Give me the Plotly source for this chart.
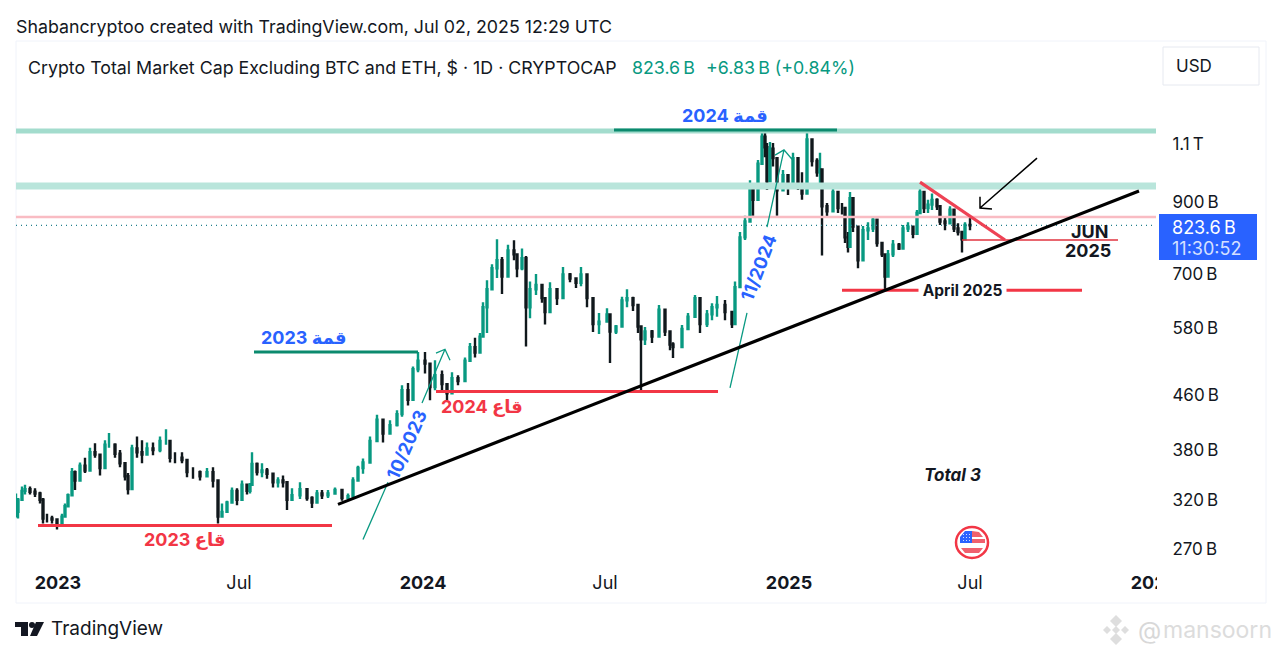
import pandas as pd
import plotly.graph_objects as go

W, H = 1280, 656
PLOT_L, PLOT_R, PLOT_T, PLOT_B = 16, 1156, 84, 570

GREEN = '#089981'
RED = '#f23645'
BLUE = '#2962ff'
INK = '#131722'
FONT = 'Inter, "DejaVu Sans", sans-serif'

# Velas (dias desde 2022-11-20, valores em bilhões)
days = [
    0, 2, 6, 9, 14, 19, 24, 27, 31, 36,
    41, 46, 49, 52, 56, 59, 64, 69, 74, 79,
    84, 89, 93, 99, 104, 109, 112, 116, 121, 126,
    131, 137, 144, 150, 154, 159, 166, 171, 177, 184,
    191, 197, 202, 206, 211, 216, 221, 226, 231, 234,
    236, 241, 246, 251, 257, 262, 267, 271, 276, 284,
    291, 296, 301, 306, 312, 319, 326, 332, 337, 342,
    347, 354, 361, 367, 374, 381, 386, 392, 397, 402,
    409, 414, 419, 426, 431, 436, 442, 449, 454, 459,
    464, 467, 471, 476, 481, 486, 492, 498, 501, 506,
    510, 514, 520, 526, 529, 534, 541, 547, 554, 560,
    565, 571, 577, 583, 591, 594, 600, 606, 611, 617,
    622, 625, 629, 636, 643, 649, 654, 657, 666, 672,
    679, 684, 691, 696, 701, 709, 716, 719, 724, 729,
    734, 737, 742, 746, 749, 751, 754, 757, 761, 767,
    772, 777, 782, 786, 791, 796, 801, 804, 806, 811,
    817, 822, 826, 829, 832, 834, 837, 842, 847, 852,
    857, 861, 866, 869, 872, 877, 883, 887, 892, 897,
    901, 904, 908, 912, 916, 921, 924, 929, 934, 938,
    942, 946, 949, 954,
]
highs = [
    325, 320, 333, 335, 333, 331, 327, 320, 303, 301,
    296, 303, 314, 325, 355, 352, 362, 368, 381, 387,
    368, 391, 401, 387, 378, 361, 349, 385, 396, 391,
    388, 388, 396, 406, 381, 375, 375, 361, 356, 352,
    355, 356, 332, 314, 317, 332, 331, 340, 332, 337,
    375, 362, 361, 355, 348, 344, 346, 332, 331, 338,
    325, 322, 329, 329, 329, 332, 326, 325, 344, 358,
    367, 396, 427, 419, 419, 434, 473, 477, 505, 531,
    531, 498, 516, 498, 473, 495, 490, 521, 548, 558,
    567, 631, 681, 720, 785, 738, 770, 782, 735, 760,
    741, 678, 696, 660, 636, 676, 660, 713, 698, 688,
    713, 667, 614, 608, 618, 593, 583, 643, 660, 643,
    614, 567, 579, 573, 625, 579, 563, 549, 583, 608,
    647, 600, 614, 629, 645, 636, 600, 678, 805, 852,
    963, 940, 1033, 1147, 1140, 1096, 1100, 1096, 1033, 998,
    970, 1060, 990, 990, 1135, 1070, 1040, 1060, 945, 890,
    945, 910, 890, 839, 805, 925, 875, 805, 822, 833,
    850, 805, 775, 730, 756, 783, 775, 825, 833, 817,
    869, 947, 900, 900, 920, 905, 860, 850, 880, 839,
    830, 805, 833, 845,
]
lows = [
    299, 298, 317, 324, 324, 321, 314, 293, 294, 293,
    287, 293, 299, 310, 331, 329, 345, 349, 361, 368,
    346, 368, 381, 368, 356, 340, 324, 362, 368, 361,
    371, 371, 375, 385, 362, 361, 361, 344, 342, 340,
    344, 332, 293, 299, 307, 317, 312, 325, 324, 325,
    344, 346, 344, 342, 332, 332, 332, 307, 317, 319,
    317, 309, 319, 319, 320, 324, 317, 319, 325, 342,
    348, 374, 391, 388, 401, 410, 424, 441, 476, 495,
    493, 449, 465, 465, 449, 465, 473, 498, 521, 521,
    548, 567, 567, 681, 686, 649, 720, 730, 688, 705,
    541, 597, 647, 630, 584, 636, 625, 651, 676, 663,
    667, 620, 569, 565, 588, 511, 565, 602, 620, 612,
    567, 465, 544, 548, 588, 561, 534, 520, 561, 579,
    620, 567, 579, 593, 600, 593, 577, 620, 716, 783,
    880, 852, 960, 1033, 1043, 931, 1033, 1010, 852, 931,
    915, 975, 931, 900, 1010, 1010, 975, 945, 742, 850,
    880, 860, 855, 775, 750, 860, 805, 710, 775, 783,
    805, 765, 738, 658, 722, 738, 756, 795, 805, 788,
    805, 880, 860, 860, 869, 869, 825, 810, 830, 805,
    795, 750, 805, 810,
]
closes = [
    305, 318, 328, 330, 327, 325, 318, 298, 298, 297,
    291, 300, 311, 323, 350, 340, 358, 352, 375, 372,
    355, 385, 385, 373, 361, 345, 330, 380, 375, 372,
    380, 378, 390, 390, 368, 368, 365, 350, 350, 345,
    350, 340, 300, 305, 315, 328, 318, 335, 328, 335,
    360, 350, 352, 348, 338, 340, 338, 318, 323, 330,
    320, 315, 325, 323, 325, 329, 320, 322, 340, 355,
    362, 390, 420, 400, 412, 428, 465, 450, 500, 515,
    510, 470, 490, 475, 460, 485, 480, 515, 540, 530,
    560, 620, 660, 710, 730, 690, 755, 745, 710, 735,
    620, 660, 670, 640, 610, 660, 640, 695, 685, 675,
    695, 640, 585, 590, 605, 570, 580, 635, 640, 625,
    580, 555, 570, 560, 615, 570, 545, 540, 575, 600,
    640, 585, 605, 620, 625, 610, 585, 665, 790, 835,
    945, 900, 1020, 1120, 1080, 960, 1075, 1040, 930, 980,
    940, 1040, 950, 920, 1110, 1030, 990, 1000, 880, 865,
    925, 875, 875, 790, 765, 905, 820, 730, 810, 815,
    840, 775, 745, 690, 745, 770, 760, 815, 820, 800,
    860, 925, 875, 885, 900, 880, 835, 830, 870, 815,
    805, 785, 825, 823.6,
]
opens = [closes[0]] + closes[:-1]
dates = pd.Timestamp('2022-11-20') + pd.to_timedelta(days, unit='D')

# Desenhos sobre o gráfico
last_price = 823.6
band_top, band_mid, pink_level = 1143, 944, 848

trend_x = ['2023-10-08', '2025-12-17']
trend_y = [313, 928]
top24_x, top24_y = ['2024-07-10', '2025-02-18'], [1147, 1147]
top23_x, top23_y = ['2023-07-16', '2023-12-27'], [531, 531]
low23_x, low23_y = ['2022-12-12', '2023-10-02'], [291, 291]
low24_x, low24_y = ['2024-01-14', '2024-10-22'], [463, 463]
apr25_x, apr25_y = ['2025-02-23', '2025-10-21'], [658, 658]
jun25_x, jun25_y = ['2025-06-23', '2025-11-26'], [783, 783]
wedge_x, wedge_y = ['2025-05-12', '2025-08-05'], [957, 783]
# As setas verdes somem por trás dos textos 10/2023 e 11/2024
arrow23_x = ['2023-11-02', '2023-11-27', None, '2023-12-31', '2024-01-23', '2024-01-14', '2024-01-23', '2024-01-28']
arrow23_y = [277, 338, None, 445, 536, 529, 536, 516]
arrow24_x = ['2024-11-03', '2024-11-20', None, '2024-12-10', '2024-12-27', '2024-12-18', '2024-12-27', '2025-01-04']
arrow24_y = [469, 608, None, 819, 1070, 1051, 1070, 1036]
black_x = ['2025-09-06', '2025-07-11', '2025-07-11', '2025-07-11', '2025-07-23']
black_y = [1040, 875, 910, 875, 872]

x_ticks = ['2023-01-01', '2023-07-01', '2024-01-01', '2024-07-01', '2025-01-01', '2025-07-01', '2026-01-01']
x_labels = ['<b>2023</b>', 'Jul', '<b>2024</b>', 'Jul', '<b>2025</b>', 'Jul', '<b>2026</b>']
y_ticks = [270, 320, 380, 460, 580, 700, 900, 1100]
y_labels = ['270\u202fB', '320\u202fB', '380\u202fB', '460\u202fB', '580\u202fB', '700\u202fB', '900\u202fB', '1.1\u202fT']


def px(x):
    return (x - PLOT_L) / (PLOT_R - PLOT_L)


def py(y):
    return (PLOT_B - y) / (PLOT_B - PLOT_T)


def texto(fig, x, y, text, size=16, color=INK, anchor='center', angle=0, bg=None, font=FONT):
    fig.add_annotation(x=px(x), y=py(y), xref='paper', yref='paper', text=text, showarrow=False,
                       xanchor=anchor, yanchor='middle', textangle=angle, bgcolor=bg, borderpad=0,
                       font=dict(family=font, size=size, color=color))


def retangulo(fig, x0, y0, x1, y1, fill='rgba(0,0,0,0)', line='rgba(0,0,0,0)', lw=1, layer='above'):
    fig.add_shape(type='rect', xref='paper', yref='paper', x0=px(x0), y0=py(y0), x1=px(x1), y1=py(y1),
                  fillcolor=fill, line=dict(color=line, width=lw), layer=layer)


def poligono(fig, pontos, fill):
    caminho = 'M ' + ' L '.join(f'{px(a):.5f},{py(b):.5f}' for a, b in pontos) + ' Z'
    fig.add_shape(type='path', xref='paper', yref='paper', path=caminho, fillcolor=fill,
                  line=dict(width=0), layer='above')


fig = go.Figure()


def linha(x, y, color, width, dash='solid'):
    fig.add_trace(go.Scatter(x=x, y=y, mode='lines', hoverinfo='skip',
                             line=dict(color=color, width=width, dash=dash)))


ends = ['2022-11-20', '2026-01-03']
linha(ends, [band_top, band_top], '#a3dccd', 5)
linha(ends, [band_mid, band_mid], '#b9e5db', 7)
linha(ends, [pink_level, pink_level], '#f9bcc3', 2.4)
linha(ends, [last_price, last_price], '#1f7f8c', 1.3, '1px 4px')

fig.add_trace(go.Candlestick(
    x=dates, open=opens, high=highs, low=lows, close=closes,
    increasing=dict(line=dict(color=GREEN, width=2.4), fillcolor=GREEN),
    decreasing=dict(line=dict(color='#10181c', width=2.4), fillcolor='#10181c'),
    hoverinfo='skip'
))

linha(arrow23_x, arrow23_y, GREEN, 1.3)
linha(arrow24_x, arrow24_y, GREEN, 1.3)
linha(top24_x, top24_y, '#0b8a6e', 3)
linha(top23_x, top23_y, '#0b8a6e', 3)
linha(low23_x, low23_y, RED, 3)
linha(low24_x, low24_y, RED, 3)
linha(apr25_x, apr25_y, RED, 3)
linha(jun25_x, jun25_y, '#e0333f', 1.5)
linha(trend_x, trend_y, '#000000', 3.2)
linha(wedge_x, wedge_y, '#ee4254', 3.2)
linha(black_x, black_y, '#000000', 1.5)

fig.update_layout(
    width=W, height=H, autosize=False,
    margin=dict(l=PLOT_L, r=W - PLOT_R, t=PLOT_T, b=H - PLOT_B, pad=0),
    paper_bgcolor='white', plot_bgcolor='white',
    showlegend=False, hovermode=False,
    font=dict(family=FONT, color=INK),
    xaxis=dict(type='date', range=['2022-11-20', '2026-01-03'], rangeslider=dict(visible=False),
               showgrid=False, zeroline=False, showline=False,
               tickmode='array', tickvals=x_ticks, ticktext=x_labels,
               ticks='', tickfont=dict(size=18, color=INK)),
    yaxis=dict(type='log', range=[2.3967, 3.1287], side='right',
               showgrid=False, zeroline=False, showline=False,
               tickmode='array', tickvals=y_ticks, ticktext=y_labels, ticklabelshift=2,
               ticks='outside', ticklen=12, tickcolor='rgba(0,0,0,0)', tickfont=dict(size=17, color=INK)),
)

# Moldura, caixa de preço e cobertura do rótulo cortado
retangulo(fig, 1157, 572, 1262, 600, fill='white')
retangulo(fig, 16, 41, 1266, 603, line='#f0f3fa', layer='below')
retangulo(fig, 1163, 47, 1259, 85, line='#e6e9f0')
retangulo(fig, 1159, 214, 1257, 260, fill=BLUE)

# Bandeira
fig.add_shape(type='circle', xref='paper', yref='paper', x0=px(956), y0=py(527), x1=px(988), y1=py(558),
              fillcolor='white', line=dict(color=RED, width=2.5), layer='above')
poligono(fig, [(972, 531), (979, 532), (983, 537), (972, 537)], '#f0606e')
retangulo(fig, 972, 539, 985, 543, fill='#f0606e')
poligono(fig, [(961, 548), (983, 548), (979, 553), (965, 553)], '#f0606e')
poligono(fig, [(965, 531), (972, 531), (972, 543), (960, 543), (960, 537)], BLUE)
for sx in (963, 966, 969):
    for sy in (534, 537, 540):
        retangulo(fig, sx, sy, sx + 1, sy + 1, fill='#cfdcff')

# Logo TradingView
retangulo(fig, 15, 622, 28, 627, fill=INK)
retangulo(fig, 21, 622, 28, 636, fill=INK)
poligono(fig, [(36, 622), (44, 622), (37, 636), (30, 636)], INK)
fig.add_shape(type='circle', xref='paper', yref='paper', x0=px(29), y0=py(622), x1=px(35), y1=py(628),
              fillcolor=INK, line=dict(width=0), layer='above')

# Marca d'água
for cx, cy, r in [(1116, 621, 6), (1107, 630, 4), (1125, 630, 4), (1116, 639, 6), (1116, 630, 4)]:
    poligono(fig, [(cx, cy - r), (cx + r, cy), (cx, cy + r), (cx - r, cy)], '#dedede')

texto(fig, 15, 27, 'Shabancryptoo created with TradingView.com, Jul 02, 2025 12:29 UTC', size=17.8, anchor='left')
texto(fig, 27, 67, 'Crypto Total Market Cap Excluding BTC and ETH, $ · 1D · CRYPTOCAP', size=17.8, anchor='left')
texto(fig, 631, 67, '823.6\u202fB', size=17.8, color=GREEN, anchor='left')
texto(fig, 705, 67, '+6.83\u202fB (+0.84%)', size=17.8, color=GREEN, anchor='left')
texto(fig, 1194, 66, 'USD', size=17)
texto(fig, 1171, 227, '823.6\u202fB', size=18, color='white', anchor='left')
texto(fig, 1171, 248, '11:30:52', size=18, color='#d5e0ff', anchor='left')

texto(fig, 725, 115, '<b>2024 قمة</b>', size=18, color=BLUE)
texto(fig, 303, 337, '<b>2023 قمة</b>', size=18, color=BLUE)
texto(fig, 482, 406, '<b>2024 قاع</b>', size=18, color=RED)
texto(fig, 185, 539, '<b>2023 قاع</b>', size=18, color=RED)
texto(fig, 406, 445, '<b>10/2023</b>', size=18, color=BLUE, angle=-66)
texto(fig, 758, 268, '<b>11/2024</b>', size=18, color=BLUE, angle=-69)
texto(fig, 962, 290, '<b> April 2025 </b>', size=15.5, color=INK, bg='white')
texto(fig, 1089, 232, '<b>JUN</b>', size=18, color=INK)
texto(fig, 1088, 250, '<b>2025</b>', size=18, color=INK)
texto(fig, 952, 475, '<b><i>Total 3</i></b>', size=17, color=INK)

texto(fig, 50, 628, 'TradingView', size=19, anchor='left')
texto(fig, 1137, 630, '@', size=24, color='#d8d8d8', anchor='left')
texto(fig, 1162, 630, 'mansoorn', size=23, color='#dcdcdc', anchor='left')

fig.write_html("out.html", config={'displayModeBar': False}, post_script="document.body.style.margin='0';")
